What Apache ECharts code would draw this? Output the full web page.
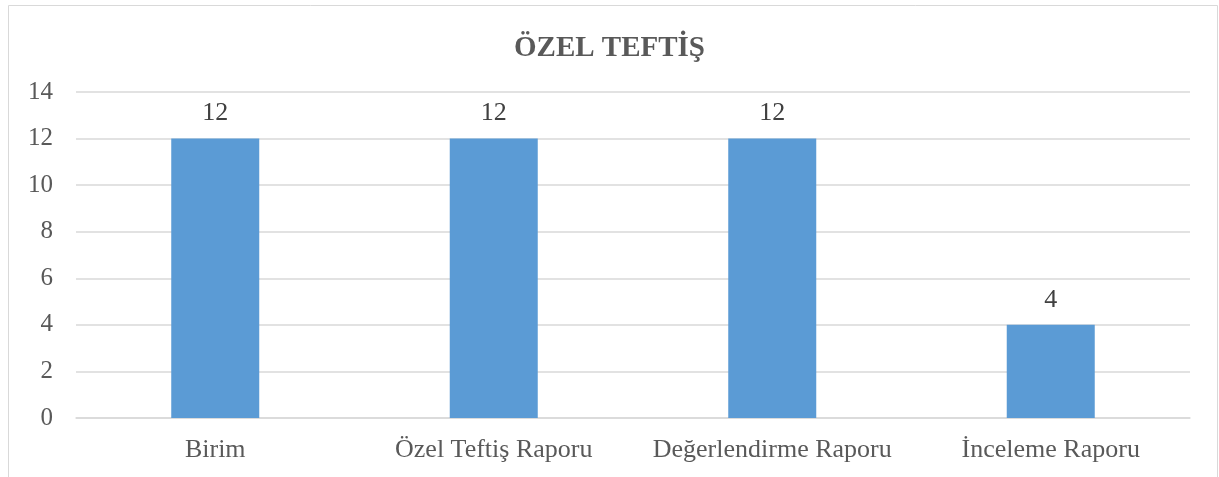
<!DOCTYPE html>
<html>
<head>
<meta charset="utf-8">
<script src="https://cdn.jsdelivr.net/npm/echarts@6/dist/echarts.min.js"></script>
<style>
  html, body { margin: 0; padding: 0; background: #fff; }
  #chart { width: 1219px; height: 477px; }
</style>
</head>
<body>
<div id="chart"></div>
<script>
// kategoriler ve değerler
const categories = ['Birim', 'Özel Teftiş Raporu', 'Değerlendirme Raporu', 'İnceleme Raporu']
const values = [12, 12, 12, 4]
const titleText = 'ÖZEL TEFTİŞ'

const chart = echarts.init(document.getElementById('chart'))
const font = '"Liberation Serif", "Times New Roman", serif'

chart.setOption({
  animation: false,
  textStyle: { fontFamily: font },
  graphic: [
    {
      type: 'rect',
      shape: { x: 8.5, y: 5.5, width: 1209, height: 500 },
      style: { fill: 'none', stroke: '#d9d9d9', lineWidth: 1 },
      silent: true
    }
  ],
  title: {
    text: titleText,
    left: 'center',
    top: 29,
    textStyle: { fontFamily: font, fontSize: 29, fontWeight: 'bold', color: '#595959' }
  },
  grid: { left: 76, right: 29, top: 92, bottom: 59 },
  xAxis: {
    type: 'category',
    data: categories,
    axisLine: { lineStyle: { color: '#d9d9d9', width: 1.5 } },
    axisTick: { show: false },
    axisLabel: { color: '#595959', fontSize: 26, fontFamily: font, margin: 19, interval: 0, hideOverlap: false }
  },
  yAxis: {
    type: 'value',
    min: 0,
    max: 14,
    interval: 2,
    axisLine: { show: false },
    axisTick: { show: false },
    splitLine: { lineStyle: { color: '#d9d9d9', width: 1.5 } },
    axisLabel: { color: '#595959', fontSize: 25, fontFamily: font, margin: 23 }
  },
  series: [
    {
      type: 'bar',
      data: values,
      barWidth: '31.6%',
      itemStyle: { color: '#5b9bd5' },
      label: {
        show: true,
        position: 'top',
        distance: 12,
        color: '#404040',
        fontSize: 26,
        fontFamily: font
      }
    }
  ]
})
</script>
</body>
</html>
